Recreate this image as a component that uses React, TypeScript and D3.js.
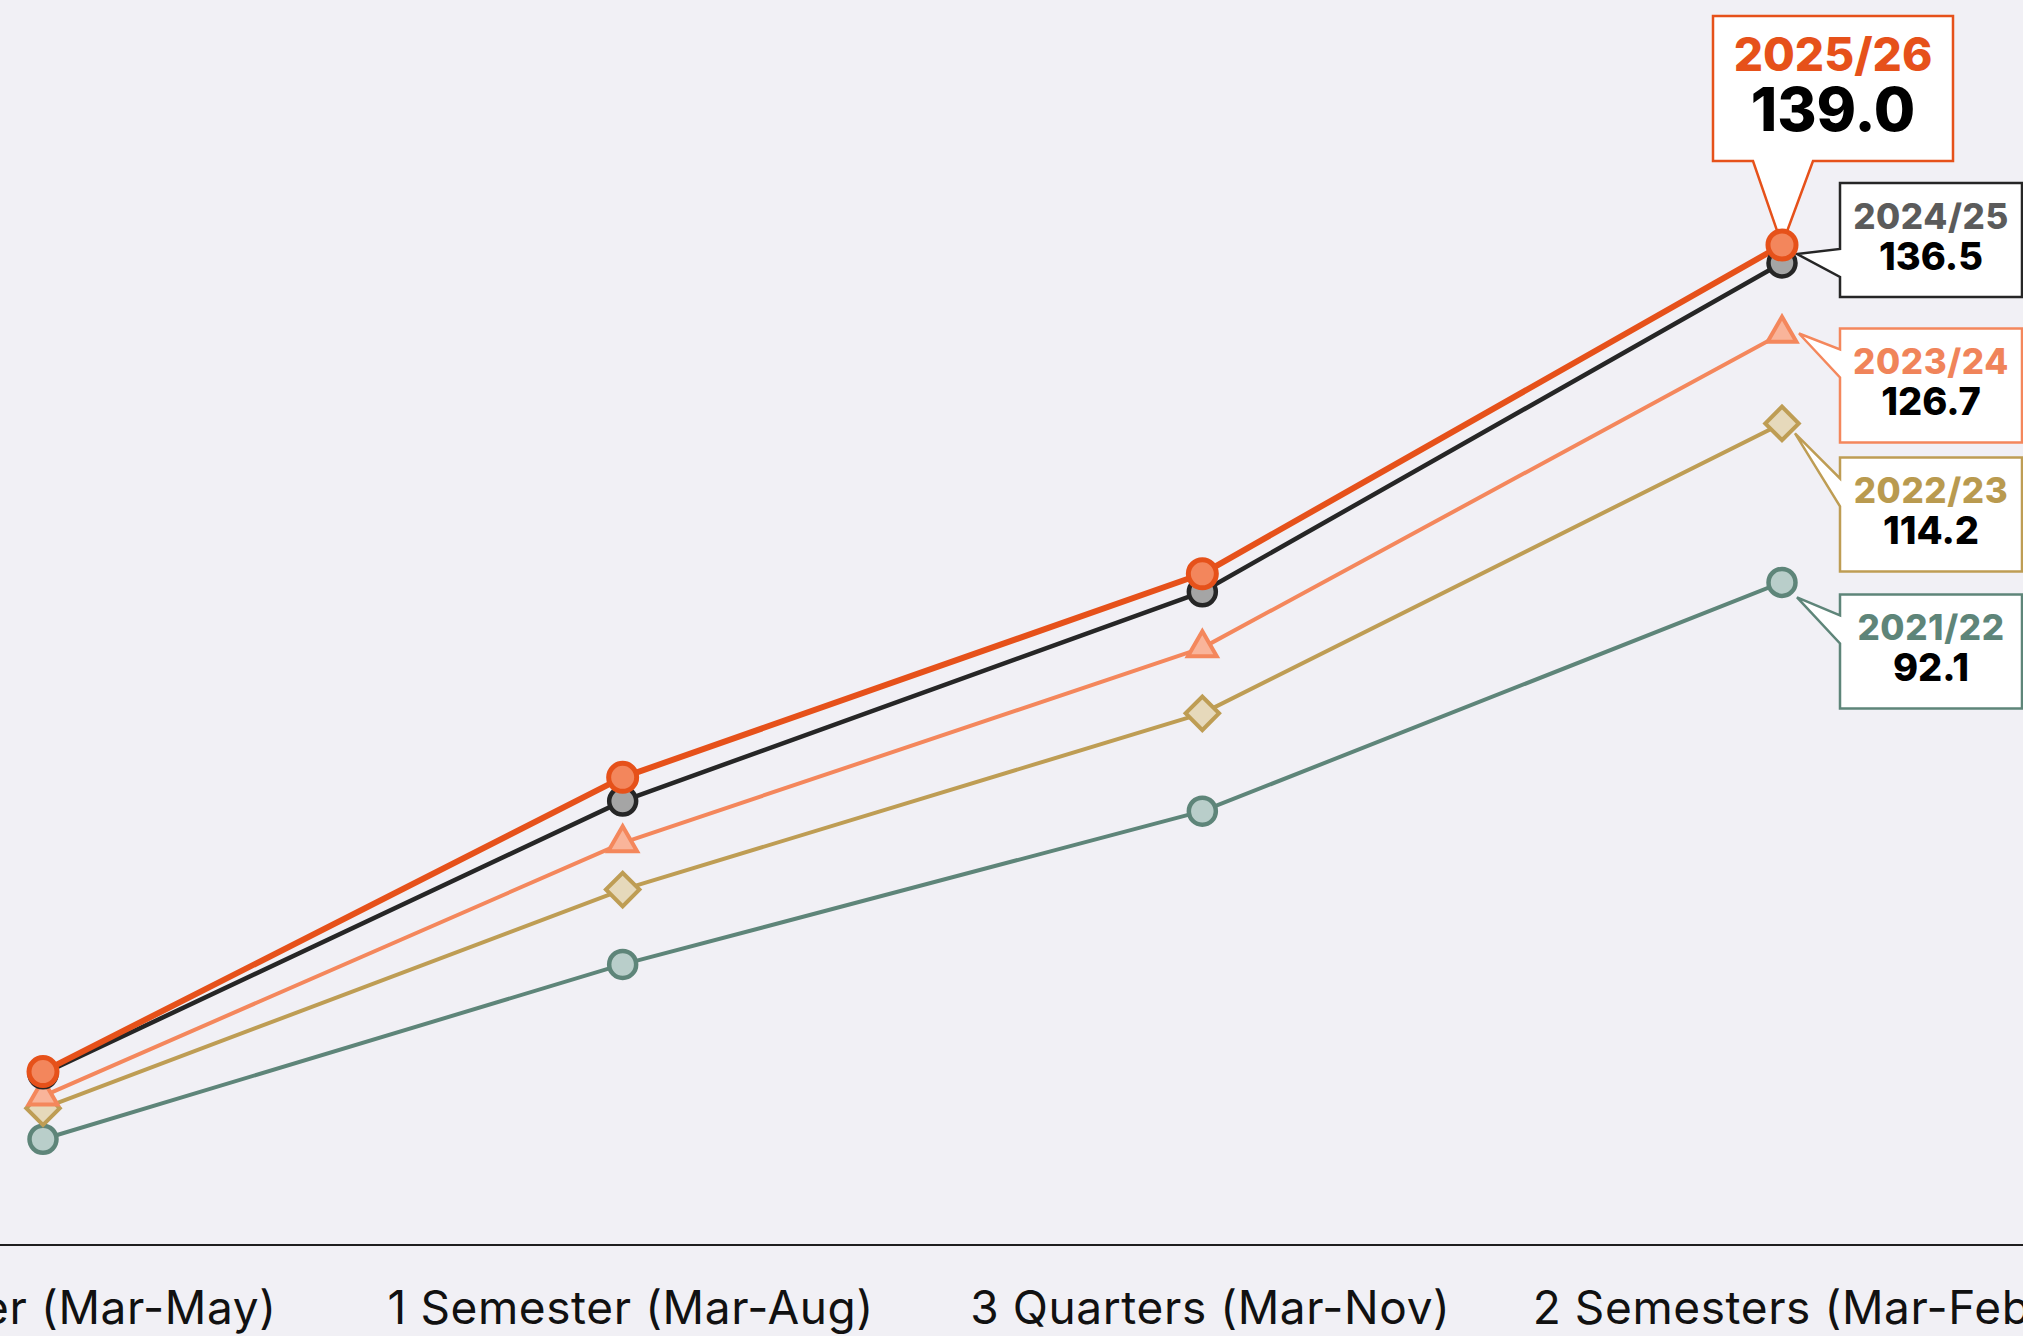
import React from "react";
import * as d3 from "d3";

// Cumulative values per season at each reporting period
const categories = [
  "1 Quarter (Mar-May)",
  "1 Semester (Mar-Aug)",
  "3 Quarters (Mar-Nov)",
  "2 Semesters (Mar-Feb)",
];
const seasons = ["2021/22", "2022/23", "2023/24", "2024/25", "2025/26"];
const values2021 = [14.7, 39.0, 60.3, 92.1];
const values2022 = [19.0, 49.4, 73.9, 114.2];
const values2023 = [20.7, 55.9, 83.0, 126.7];
const values2024 = [23.8, 61.7, 90.8, 136.5];
const values2025 = [24.1, 65.0, 93.3, 139.0];

const seriesValues = [values2021, values2022, values2023, values2024, values2025];

// Visual styling per season
const seriesStyle = [
  { line: "#5E8579", fill: "#B9CECA", text: "#5E8579", width: 4, symbol: "circle" },
  { line: "#BE9D54", fill: "#E6D9BB", text: "#B99A4F", width: 4, symbol: "diamond" },
  { line: "#F4875C", fill: "#F9B49A", text: "#F0845A", width: 4, symbol: "triangle" },
  { line: "#262626", fill: "#A5A5A5", text: "#5B5B5B", width: 4.5, symbol: "circle" },
  { line: "#E6511A", fill: "#F3865C", text: "#E6511A", width: 6, symbol: "circle" },
];

// Callout placement next to the final point (offsets in px from the point)
const calloutLayout = [
  { boxDy: 12, baseDy: 35, tipDx: 15, tipDy: 15 },
  { boxDy: 34, baseDy: 35, tipDx: 13, tipDy: 10 },
  { boxDy: -5, baseDy: 35, tipDx: 17, tipDy: 0 },
  { boxDy: -80, baseDy: 80, tipDx: 15, tipDy: -9 },
];

const W = 2023;
const H = 1336;
const AXIS_Y = 1245;
const FONT = "Inter, 'Noto Sans', Roboto, sans-serif";

export default function App() {
  const x = d3.scalePoint<string>().domain(categories).range([43, 1782]);
  const yMax = d3.max(seriesValues.flat()) as number;
  const y = d3.scaleLinear().domain([0, yMax]).range([AXIS_Y, 245]);

  const line = d3
    .line<number>()
    .x((_, i) => x(categories[i]) as number)
    .y((d) => y(d));

  const circlePath = (r: number) => d3.symbol(d3.symbolCircle, Math.PI * r * r)() as string;
  const trianglePath = d3.symbol(d3.symbolTriangle, 360)() as string;
  const squarePath = d3.symbol(d3.symbolSquare, 560)() as string;

  const marker = (si: number, vx: number, vy: number, key: string) => {
    const st = seriesStyle[si];
    if (st.symbol === "triangle") {
      return (
        <path key={key} d={trianglePath} transform={`translate(${vx},${vy})`}
          fill={st.fill} stroke={st.line} strokeWidth={4} strokeLinejoin="miter" />
      );
    }
    if (st.symbol === "diamond") {
      return (
        <path key={key} d={squarePath} transform={`translate(${vx},${vy}) rotate(45)`}
          fill={st.fill} stroke={st.line} strokeWidth={4} />
      );
    }
    const big = si === seriesStyle.length - 1;
    return (
      <path key={key} d={circlePath(big ? 14 : 13.5)} transform={`translate(${vx},${vy})`}
        fill={st.fill} stroke={st.line} strokeWidth={big ? 5 : 4.5} />
    );
  };

  const lastCat = categories[categories.length - 1];
  const lx = x(lastCat) as number;

  // Small callouts with a pointer on the left edge
  const smallCallouts = calloutLayout.map((c, si) => {
    const vals = seriesValues[si];
    const v = vals[vals.length - 1];
    const py = y(v);
    const left = lx + 58;
    const width = 182;
    const top = py + c.boxDy;
    const height = 114;
    const baseC = top + c.baseDy;
    const p = d3.path();
    p.moveTo(left, top);
    p.lineTo(left + width, top);
    p.lineTo(left + width, top + height);
    p.lineTo(left, top + height);
    p.lineTo(left, baseC + 14);
    p.lineTo(lx + c.tipDx, py + c.tipDy);
    p.lineTo(left, baseC - 14);
    p.closePath();
    const st = seriesStyle[si];
    const cx = left + width / 2;
    return (
      <g key={`call-${si}`}>
        <path d={p.toString()} fill="#FFFFFF" stroke={st.line} strokeWidth={2.5} strokeLinejoin="miter" />
        <text x={cx} y={top + 46} textAnchor="middle" fontFamily={FONT} fontWeight={800}
          fontSize={35} letterSpacing={0.6} fill={st.text}>{seasons[si]}</text>
        <text x={cx} y={top + 87} textAnchor="middle" fontFamily={FONT} fontWeight={800}
          fontSize={38} fill="#000000">{v.toFixed(1)}</text>
      </g>
    );
  });

  // Highlighted callout for the current season, pointing down at its point
  const hi = seriesValues.length - 1;
  const hiVal = seriesValues[hi][seriesValues[hi].length - 1];
  const hy = y(hiVal);
  const bLeft = lx - 69;
  const bWidth = 240;
  const bTop = hy - 229;
  const bHeight = 145;
  const hp = d3.path();
  hp.moveTo(bLeft, bTop);
  hp.lineTo(bLeft + bWidth, bTop);
  hp.lineTo(bLeft + bWidth, bTop + bHeight);
  hp.lineTo(lx + 31, bTop + bHeight);
  hp.lineTo(lx, hy);
  hp.lineTo(lx - 29, bTop + bHeight);
  hp.lineTo(bLeft, bTop + bHeight);
  hp.closePath();
  const bcx = bLeft + bWidth / 2;

  return (
    <>
      <style>{`body{margin:0;}`}</style>
      <svg width={W} height={H} style={{ display: "block" }}>
        <rect x={0} y={0} width={W} height={H} fill="#F1F0F5" />

        {/* lines */}
        {seriesValues.map((vals, si) => (
          <path key={`line-${si}`} d={line(vals) as string} fill="none"
            stroke={seriesStyle[si].line} strokeWidth={seriesStyle[si].width}
            strokeLinejoin="round" />
        ))}

        {/* callouts */}
        {smallCallouts}
        <g>
          <path d={hp.toString()} fill="#FFFFFF" stroke={seriesStyle[hi].line} strokeWidth={2.5} />
          <text x={bcx} y={bTop + 55} textAnchor="middle" fontFamily={FONT} fontWeight={800}
            fontSize={46} fill={seriesStyle[hi].text}>{seasons[hi]}</text>
          <text x={bcx} y={bTop + 115} textAnchor="middle" fontFamily={FONT} fontWeight={800}
            fontSize={60} fill="#000000">{hiVal.toFixed(1)}</text>
        </g>

        {/* markers */}
        {seriesValues.map((vals, si) =>
          vals.map((v, i) => marker(si, x(categories[i]) as number, y(v), `m-${si}-${i}`))
        )}

        {/* x axis */}
        <line x1={0} x2={W} y1={AXIS_Y} y2={AXIS_Y} stroke="#1E1E1E" strokeWidth={2} />
        {categories.map((c) => (
          <text key={c} x={(x(c) as number) + 8} y={1324} textAnchor="middle" fontFamily={FONT}
            fontSize={46} letterSpacing={0.6} fill="#111111">{c}</text>
        ))}
      </svg>
    </>
  );
}
